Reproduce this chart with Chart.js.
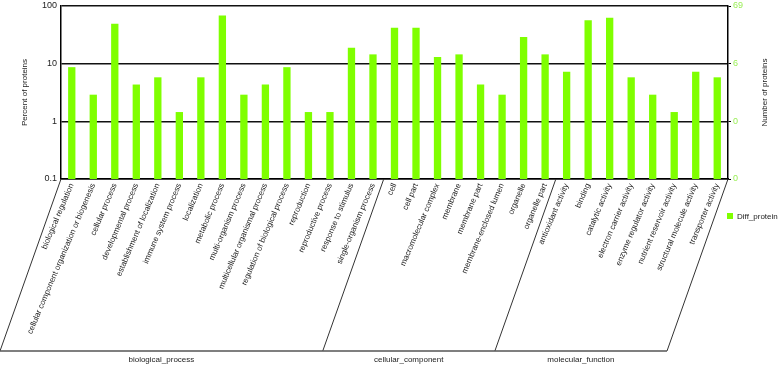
<!DOCTYPE html>
<html>
<head>
<meta charset="utf-8">
<script src="https://cdn.jsdelivr.net/npm/chart.js@4"></script>
<style>
  html, body { margin: 0; padding: 0; background: #fff; }
  #wrap { width: 778px; height: 368px; }
</style>
</head>
<body>
<div id="wrap"><canvas id="goChart" width="778" height="368"></canvas></div>
<script>
// GO terms, in order along the x axis
const categories = [
    'biological regulation', 'cellular component organization or biogenesis', 'cellular process',
    'developmental process', 'establishment of localization', 'immune system process', 'localization',
    'metabolic process', 'multi-organism process', 'multicellular organismal process',
    'regulation of biological process', 'reproduction', 'reproductive process', 'response to stimulus',
    'single-organism process',
    'cell', 'cell part', 'macromolecular complex', 'membrane', 'membrane part',
    'membrane-enclosed lumen', 'organelle', 'organelle part',
    'antioxidant activity', 'binding', 'catalytic activity', 'electron carrier activity',
    'enzyme regulator activity', 'nutrient reservoir activity', 'structural molecule activity',
    'transporter activity'
];
// number of proteins per term
const proteinCounts = [6, 2, 34, 3, 4, 1, 4, 47, 2, 3, 6, 1, 1, 13, 10,
                       29, 29, 9, 10, 3, 2, 20, 10,
                       5, 39, 43, 4, 2, 1, 5, 4];
const totalProteins = 69;
const groupNames = ['biological_process', 'cellular_component', 'molecular_function'];
const groupSizes = [15, 8, 8];
const leftTicks = [0.1, 1, 10, 100];
const rightTickLabels = ['0', '0', '6', '69'];
const seriesName = 'Diff_protein';

const percentValues = proteinCounts.map(c => c / totalProteins * 100);

const barColor = '#7fff00';
const FONT = 'Liberation Sans, Arial, sans-serif';

// brackets under the axis, titles and legend
const extrasPlugin = {
    id: 'extras',
    afterDraw(chart) {
        const ctx = chart.ctx;
        const area = chart.chartArea;
        const x = chart.scales.x;
        const yBottom = 351;
        const shift = 61;

        // boundaries between groups
        const bounds = [area.left];
        let idx = 0;
        groupSizes.forEach((n, g) => {
            idx += n;
            if (g < groupSizes.length - 1) {
                bounds.push((x.getPixelForValue(idx - 1) + x.getPixelForValue(idx)) / 2);
            }
        });
        bounds.push(area.right);

        ctx.save();
        ctx.strokeStyle = '#333';
        ctx.lineWidth = 1;
        bounds.forEach(bx => {
            ctx.beginPath();
            ctx.moveTo(bx, area.bottom);
            ctx.lineTo(bx - shift, yBottom);
            ctx.stroke();
        });
        ctx.strokeStyle = '#555';
        ctx.lineWidth = 1.5;
        ctx.beginPath();
        ctx.moveTo(0, yBottom);
        ctx.lineTo(area.right - shift, yBottom);
        ctx.stroke();

        ctx.fillStyle = '#222';
        ctx.font = '8px ' + FONT;
        ctx.textAlign = 'center';
        ctx.textBaseline = 'middle';
        groupNames.forEach((name, g) => {
            const l = Math.max(bounds[g] - shift, 0);
            const r = bounds[g + 1] - shift;
            ctx.fillText(name, (l + r) / 2, yBottom + 9);
        });

        // axis titles
        const midY = (area.top + area.bottom) / 2;
        ctx.save();
        ctx.translate(25, midY);
        ctx.rotate(-Math.PI / 2);
        ctx.fillText('Percent of proteins', 0, 0);
        ctx.restore();
        ctx.save();
        ctx.translate(765, midY);
        ctx.rotate(-Math.PI / 2);
        ctx.fillText('Number of proteins', 0, 0);
        ctx.restore();

        // legend
        ctx.fillStyle = barColor;
        ctx.fillRect(727, 213, 6, 6);
        ctx.fillStyle = '#222';
        ctx.textAlign = 'left';
        ctx.fillText(chart.data.datasets[0].label, 737, 216.5);
        ctx.restore();
    }
};

function fixY(width) {
    return (s) => {
        s.width = width;
        s.paddingTop = 0;
        s.paddingBottom = 0;
    };
}

new Chart(document.getElementById('goChart'), {
    type: 'bar',
    data: {
        labels: categories,
        datasets: [{
            label: seriesName,
            data: percentValues,
            backgroundColor: barColor,
            borderWidth: 0,
            barPercentage: 0.34,
            categoryPercentage: 1
        }]
    },
    options: {
        responsive: false,
        animation: false,
        devicePixelRatio: 1,
        layout: { padding: { top: 6, left: 0, right: 0, bottom: 0 } },
        plugins: {
            legend: { display: false },
            tooltip: { enabled: false }
        },
        scales: {
            x: {
                grid: { display: false, drawTicks: false },
                border: { color: '#000', width: 1.5 },
                ticks: {
                    autoSkip: false,
                    minRotation: 67,
                    maxRotation: 67,
                    padding: 3,
                    color: '#222',
                    font: { family: FONT, size: 8 }
                },
                afterFit(s) { s.height = 189; }
            },
            y: {
                type: 'logarithmic',
                position: 'left',
                min: 0.1,
                max: 100,
                afterBuildTicks(s) { s.ticks = leftTicks.map(v => ({ value: v })); },
                grid: { color: '#111', lineWidth: 1.5, drawTicks: false },
                border: { color: '#000', width: 1.5 },
                ticks: {
                    padding: 4,
                    color: '#222',
                    font: { family: FONT, size: 9 },
                    callback: (v) => String(v)
                },
                afterFit: fixY(61)
            },
            y1: {
                type: 'logarithmic',
                position: 'right',
                min: 0.1,
                max: 100,
                afterBuildTicks(s) { s.ticks = leftTicks.map(v => ({ value: v })); },
                grid: { drawOnChartArea: false, drawTicks: true, tickLength: 3, color: '#000' },
                border: { color: '#000', width: 1.5 },
                ticks: {
                    padding: 2,
                    color: '#99ee55',
                    font: { family: FONT, size: 9 },
                    callback: (v, i) => rightTickLabels[i]
                },
                afterFit: fixY(50)
            }
        }
    },
    plugins: [extrasPlugin]
});
</script>
</body>
</html>
